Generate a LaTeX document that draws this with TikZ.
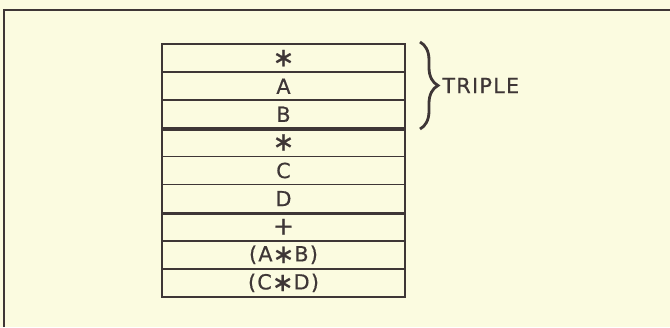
\documentclass[tikz,border=0pt]{standalone}
\usepackage{fontspec}
\setmainfont{DejaVu Sans}[LetterSpace=6, FakeBold=0.5]
\usetikzlibrary{decorations.pathreplacing}
\definecolor{paper}{HTML}{FBFBE0}
\definecolor{ink}{HTML}{3E3636}

\newcommand{\opstar}{\raisebox{-0.15ex}{\scalebox{1.25}{∗}}}

\tikzset{cell/.style={draw=ink, line width=0.9pt, minimum width=121.5pt,
    minimum height=14.05pt, inner sep=0pt, text=ink}}

\begin{document}
\begin{tikzpicture}[x=0.5pt, y=-0.5pt, every node/.style={font=\fontsize{10.4}{11}\selectfont}]
    \fill[paper] (0,0) rectangle (670,327);
    \useasboundingbox (0,0) rectangle (670,327);
    % outer frame, open at right and bottom
    \draw[ink, line width=1.1pt] (4,327) -- (4,10) -- (670,10);
    % the list cells
    \node[cell] (op1) at (283.5, 58.1) {\opstar};
    \node[cell] (a) at (283.5, 86.2) {A};
    \node[cell] (b) at (283.5, 114.3) {B};
    \node[cell] (op2) at (283.5, 142.4) {\opstar};
    \node[cell] (c) at (283.5, 170.5) {C};
    \node[cell] (d) at (283.5, 198.6) {D};
    \node[cell] (op3) at (283.5, 226.7) {\scalebox{1.2}{+}};
    \node[cell] (ab) at (283.5, 254.8) {(A\opstar B)};
    \node[cell] (cd) at (283.5, 282.9) {(C\opstar D)};
    \draw[ink, line width=1.4pt] (b.south west) -- (b.south east);
    \draw[ink, line width=1.4pt] (d.south west) -- (d.south east);
    % brace over the first three cells
    \coordinate (top) at (420, 42);
    \coordinate (bot) at (420, 129);
    \draw[ink, line width=1.4pt, decorate,
      decoration={brace, amplitude=9pt}] (top) -- (bot)
      node[midway, right=10.5pt, inner sep=0pt, text=ink] (lbl) {TRIPLE};
  \end{tikzpicture}
\end{document}
